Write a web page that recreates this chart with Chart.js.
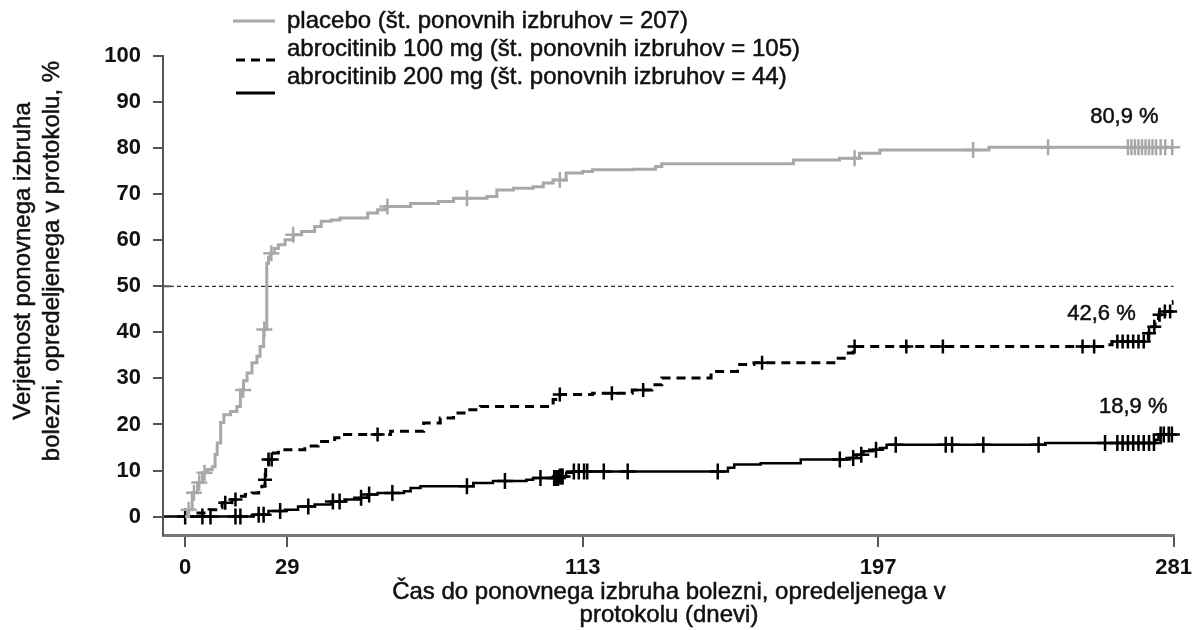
<!DOCTYPE html>
<html>
<head>
<meta charset="utf-8">
<script src="https://cdn.jsdelivr.net/npm/chart.js@4.4.1/dist/chart.umd.min.js"></script>
<style>
  html, body { margin: 0; padding: 0; background: #fff; }
  canvas { display: block; }
</style>
</head>
<body>
<canvas id="kmChart" width="1200" height="630"></canvas>
<script>
// tick labels
const xTicks = [0, 29, 113, 197, 281];
const yTicks = [0, 10, 20, 30, 40, 50, 60, 70, 80, 90, 100];

// placebo - cumulative probability (%) after each jump
const placeboDays = [0, 1, 2, 3.5, 4.9, 6.3, 7.7, 8.5, 9.1, 10.1, 11, 12.9, 14.7, 15.7, 16.6, 17.6, 19, 20.4, 21.3, 22.3,
  23.2, 23.7, 24.2, 25.3, 26.5, 28.4, 30.7, 33.1, 36.8, 38.7, 41.5, 44, 51.9, 54.7, 57, 64.1, 72, 76.3, 85.8, 88.6,
  93.3, 98.9, 101.8, 104.6, 108.3, 113, 115.8, 127.1, 133.7, 135.5, 172.9, 186, 191.7, 197.5, 228.5, 281];
const placeboPct = [0, 1.5, 5.2, 7.4, 9.5, 10.2, 10.8, 13.5, 16, 20.4, 22.1, 22.8, 23.9, 27.5, 29.5, 31.2, 33.4, 34.8, 36.9, 40.6,
  55, 56.3, 57.2, 58.2, 59, 60.1, 61.2, 61.9, 63, 64.1, 64.4, 64.8, 65.9, 66.6, 67.3, 68, 68.4, 69.1, 69.5, 70.9,
  71.3, 71.6, 72.4, 73.1, 74.6, 74.9, 75.3, 75.4, 76, 76.6, 77.4, 77.8, 78.9, 79.6, 80.2, 80.2];
const placeboCensor = [1, 2.5, 4, 5.5, 16.5, 22.5, 24.5, 30.7, 57.5, 80.1, 106.5, 190.3, 224, 245.3,
  268, 269, 270, 271, 272, 273, 274, 275, 276, 277.3, 278.6, 280.6];

// abrocitinib 100 mg
const dose100Days = [0, 3, 6.8, 8.7, 10.5, 13.3, 15.2, 17.1, 19, 20.9, 21.8, 22.7, 22.9, 23.7, 25.1, 26.5, 34, 37.8, 42.5, 45.3,
  58.4, 67.8, 72.5, 76.3, 80.1, 83.9, 104.6, 106.5, 115.8, 127.1, 132.7, 135.5, 149.5, 157, 161.7, 185.1, 188, 189.9,
  261.5, 263.5, 272.9, 273.8, 274.8, 275.7, 276.7, 278.1, 280.9, 281];
const dose100Pct = [0, 0.8, 1.5, 1.9, 3, 3.7, 4.4, 4.8, 5.1, 5.9, 6.6, 8, 10.2, 12.4, 13.8, 14.5, 15.3, 16.3, 17.1, 17.8,
  18.5, 20.3, 21.4, 22.5, 23.2, 23.9, 25.4, 26.5, 26.8, 27.5, 28.6, 30.1, 31.5, 33, 33.4, 34.4, 35.5, 36.9,
  37.3, 38, 38.4, 39.8, 41.2, 42.7, 43.8, 44.5, 46.7, 46.7];
const dose100Censor = [11.4, 14.3, 22.7, 23.7, 24.6, 54.7, 106.5, 121.3, 130.2, 164, 190.3, 205, 215.4, 255.1, 258.4,
  265, 266.5, 268, 269.5, 271, 272.5, 274, 275.5, 277, 278.5, 280];

// abrocitinib 200 mg
const dose200Days = [-6, 19.5, 23.7, 28.4, 32.1, 36.8, 41.5, 45.3, 50, 51.9, 54.7, 62.2, 64.1, 66.9, 81.9, 87.5, 97, 98.9,
  106.5, 108.3, 110.2, 154.3, 156.1, 163.6, 175, 189, 190.9, 192.8, 195.6, 197.5, 199.4, 244.5, 275.7, 276.7, 281];
const dose200Pct = [0, 0.4, 1.2, 1.5, 2.2, 2.6, 3.3, 3.7, 4.1, 4.8, 5.1, 5.5, 6.2, 6.6, 7.3, 7.7, 8, 8.4,
  8.7, 9.5, 9.8, 10.6, 11.3, 11.6, 12.4, 12.7, 13.4, 14.2, 14.5, 14.9, 15.6, 16, 16.7, 17.8, 17.8];
const dose200Censor = [0, 4.9, 7.2, 14.3, 15.7, 20.9, 22.3, 27, 35, 42, 43.9, 50, 52.3, 58.9, 80.1, 90.9, 101,
  104.9, 105.5, 106, 106.5, 107, 107.3, 110.5, 111.9, 113.4, 114.3, 119, 125.8, 151.4, 186.1, 189.9, 192.2, 196.4,
  202, 216.2, 218, 226.9, 242.6, 261.5, 265, 266.5, 268, 269.5, 271, 272.5, 274, 275.4, 277.3, 278.2, 279.6, 280.5];

const legendLabels = [
  'placebo (št. ponovnih izbruhov = 207)',
  'abrocitinib 100 mg (št. ponovnih izbruhov = 105)',
  'abrocitinib 200 mg (št. ponovnih izbruhov = 44)'
];
const endLabels = ['80,9 %', '42,6 %', '18,9 %'];

const FONT = '"Liberation Sans", Arial, Helvetica, sans-serif';
const GREY = '#a8a8a8';

function toPoints(days, pct) {
  return days.map((d, i) => ({ x: d, y: pct[i] }));
}

// value of the step curve at time t
function stepAt(days, pct, t) {
  let v = pct[0];
  for (let i = 0; i < days.length; i++) {
    if (days[i] <= t) v = pct[i];
  }
  return v;
}

function censorPoints(times, days, pct) {
  return times.map(t => ({ x: t, y: stepAt(days, pct, t) }));
}

// slightly heavier text, the source looks semi-bold
function heavyText(ctx, txt, x, y) {
  ctx.fillText(txt, x, y);
  ctx.strokeText(txt, x, y);
}

const overlay = {
  id: 'overlay',
  beforeDatasetsDraw(chart) {
    const { ctx, chartArea, scales } = chart;
    const y50 = scales.y.getPixelForValue(50);
    ctx.save();
    ctx.strokeStyle = '#333';
    ctx.lineWidth = 1.3;
    ctx.setLineDash([4, 3]);
    ctx.beginPath();
    ctx.moveTo(chartArea.left, y50);
    ctx.lineTo(chartArea.right, y50);
    ctx.stroke();
    ctx.setLineDash([]);
    ctx.strokeStyle = '#555';
    ctx.lineWidth = 2;
    ctx.beginPath();
    ctx.moveTo(chartArea.left, y50);
    ctx.lineTo(chartArea.left + 8, y50);
    ctx.stroke();
    ctx.restore();
  },
  afterDraw(chart) {
    const { ctx, scales } = chart;
    ctx.save();
    ctx.fillStyle = '#111';
    ctx.strokeStyle = '#111';
    ctx.lineWidth = 0.5;
    ctx.textBaseline = 'middle';

    // y axis title (two lines, rotated)
    ctx.font = '24px ' + FONT;
    ctx.save();
    ctx.translate(23, 261);
    ctx.rotate(-Math.PI / 2);
    ctx.textAlign = 'center';
    heavyText(ctx, 'Verjetnost ponovnega izbruha', 0, 0);
    heavyText(ctx, 'bolezni, opredeljenega v protokolu, %', 0, 29);
    ctx.restore();

    // x axis title
    ctx.textAlign = 'center';
    heavyText(ctx, 'Čas do ponovnega izbruha bolezni, opredeljenega v', 669, 592);
    heavyText(ctx, 'protokolu (dnevi)', 669, 615);

    // legend
    ctx.textAlign = 'left';
    ctx.font = '24px ' + FONT;
    const textY = [21, 49, 77];
    legendLabels.forEach((t, i) => heavyText(ctx, t, 287, textY[i]));
    ctx.lineWidth = 3;
    ctx.strokeStyle = GREY;
    ctx.beginPath(); ctx.moveTo(233, 21); ctx.lineTo(275, 21); ctx.stroke();
    ctx.strokeStyle = '#000';
    ctx.setLineDash([9, 6]);
    ctx.beginPath(); ctx.moveTo(236, 60); ctx.lineTo(275, 60); ctx.stroke();
    ctx.setLineDash([]);
    ctx.beginPath(); ctx.moveTo(236, 93); ctx.lineTo(275, 93); ctx.stroke();

    // end-of-curve percentages
    ctx.textAlign = 'center';
    ctx.font = '22px ' + FONT;
    ctx.strokeStyle = '#111';
    ctx.lineWidth = 0.5;
    const labelAt = [[267, 86.7], [260.5, 44], [269.5, 23.7]];
    endLabels.forEach((t, i) => {
      heavyText(ctx, t, scales.x.getPixelForValue(labelAt[i][0]), scales.y.getPixelForValue(labelAt[i][1]));
    });
    ctx.restore();
  }
};

const ctx = document.getElementById('kmChart').getContext('2d');
const kmChart = new Chart(ctx, {
  type: 'line',
  data: {
    datasets: [
      {
        label: legendLabels[0],
        data: toPoints(placeboDays, placeboPct),
        borderColor: GREY,
        borderWidth: 3,
        stepped: 'before',
        pointRadius: 0
      },
      {
        label: legendLabels[1],
        data: toPoints(dose100Days, dose100Pct),
        borderColor: '#000',
        borderWidth: 3,
        borderDash: [9, 6],
        stepped: 'before',
        pointRadius: 0
      },
      {
        label: legendLabels[2],
        data: toPoints(dose200Days, dose200Pct),
        borderColor: '#000',
        borderWidth: 2.5,
        stepped: 'before',
        pointRadius: 0
      },
      {
        data: censorPoints(placeboCensor, placeboDays, placeboPct),
        showLine: false,
        pointStyle: 'cross',
        pointRadius: 8,
        pointBorderWidth: 2.5,
        pointBorderColor: GREY,
        clip: false
      },
      {
        data: censorPoints(dose100Censor, dose100Days, dose100Pct),
        showLine: false,
        pointStyle: 'cross',
        pointRadius: 7,
        pointBorderWidth: 2.5,
        pointBorderColor: '#000',
        clip: false
      },
      {
        data: censorPoints(dose200Censor, dose200Days, dose200Pct),
        showLine: false,
        pointStyle: 'cross',
        pointRadius: 8,
        pointBorderWidth: 2.5,
        pointBorderColor: '#000',
        clip: false
      }
    ]
  },
  options: {
    responsive: false,
    animation: false,
    layout: { padding: { top: 56, right: 17, left: 0, bottom: 0 } },
    plugins: {
      legend: { display: false },
      tooltip: { enabled: false }
    },
    scales: {
      x: {
        type: 'linear',
        min: -6.3,
        max: 281,
        afterBuildTicks: scale => { scale.ticks = xTicks.map(v => ({ value: v })); },
        afterFit: scale => { scale.height = 95; },
        border: { color: '#777', width: 3 },
        grid: { drawOnChartArea: false, tickLength: 12, color: '#555', lineWidth: 2 },
        ticks: {
          autoSkip: false,
          maxRotation: 0,
          padding: 8,
          color: '#111',
          font: { family: FONT, size: 22, weight: 'bold' }
        }
      },
      y: {
        min: -4,
        max: 100,
        afterBuildTicks: scale => { scale.ticks = yTicks.map(v => ({ value: v })); },
        afterFit: scale => { scale.width = 163; },
        border: { color: '#555', width: 2 },
        grid: { drawOnChartArea: false, tickLength: 10, color: '#555', lineWidth: 2 },
        ticks: {
          padding: 12,
          color: '#111',
          font: { family: FONT, size: 22, weight: 'bold' }
        }
      }
    }
  },
  plugins: [overlay]
});
</script>
</body>
</html>
